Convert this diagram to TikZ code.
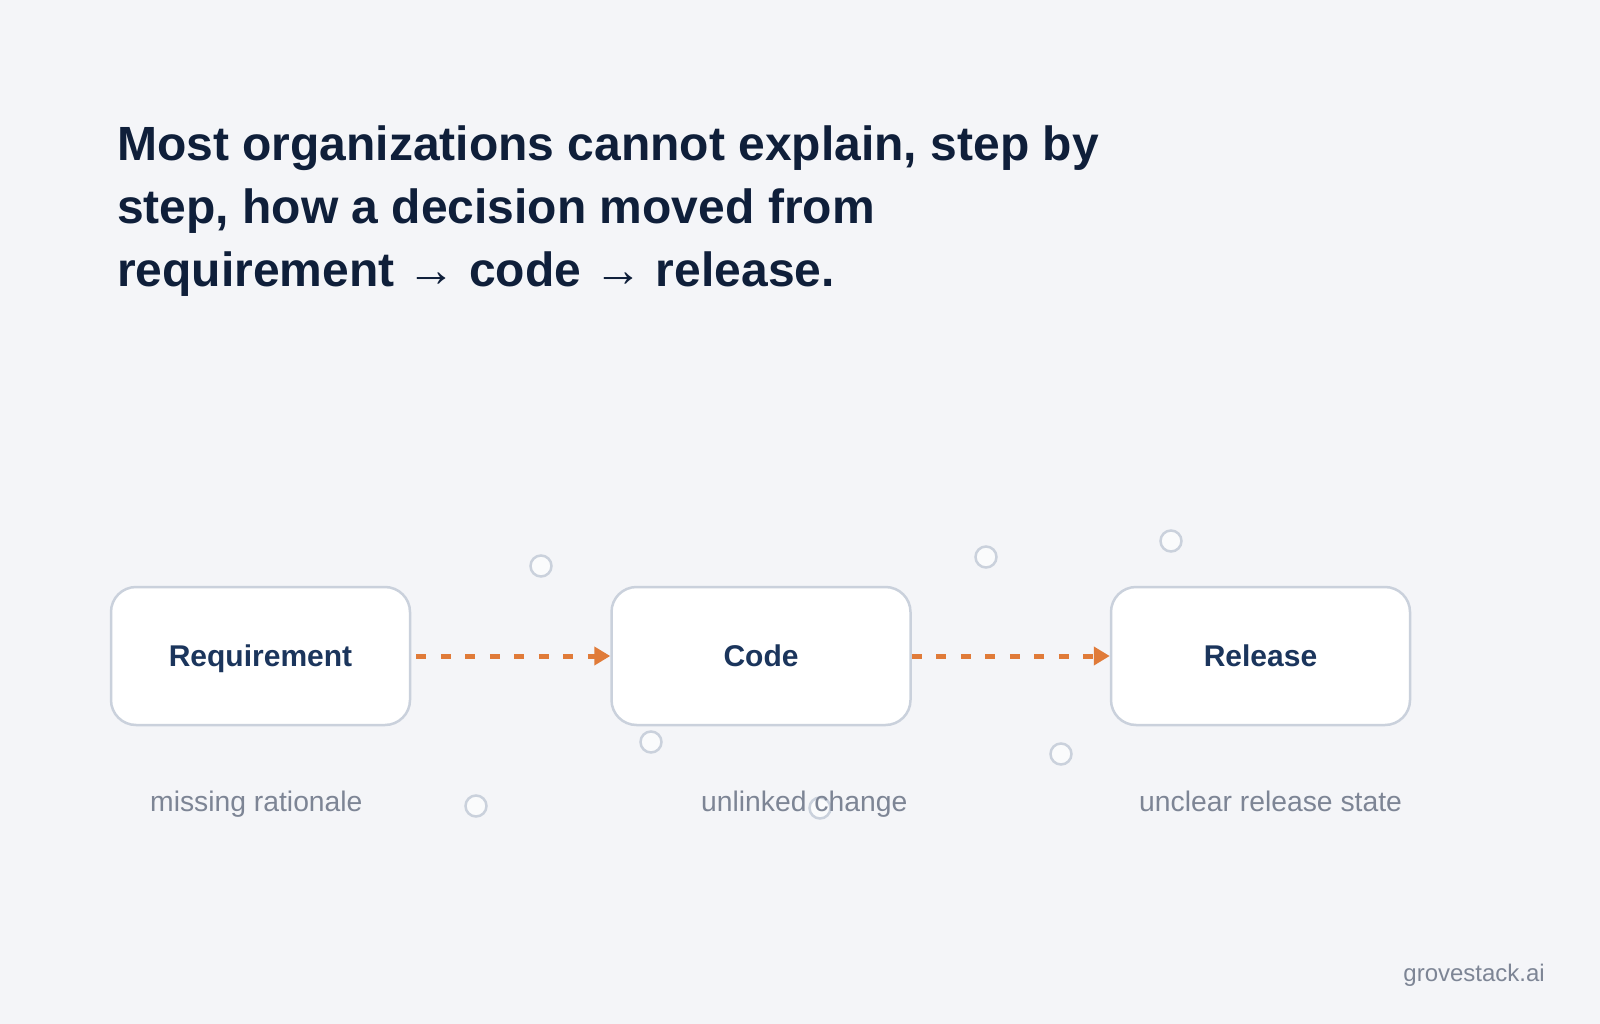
\documentclass[tikz,border=0pt]{standalone}
\usepackage{fontspec}
\setmainfont{Liberation Sans}
\usetikzlibrary{arrows.meta}
\definecolor{bg}{HTML}{F4F5F8}
\definecolor{titlecol}{HTML}{0F1F3A}
\definecolor{boxtext}{HTML}{1B355C}
\definecolor{boxline}{HTML}{CAD1DC}
\definecolor{graytext}{HTML}{7D8595}
\definecolor{flow}{HTML}{E07B39}
\tikzset{
  stepbox/.style={draw=boxline, line width=2.5pt, fill=white, rounded corners=25pt,
    minimum width=299pt, minimum height=138pt, inner sep=0pt,
    text=boxtext, font=\fontsize{30}{36}\selectfont\bfseries,
    text height=21.5pt, text depth=0pt},
  titleline/.style={anchor=base west, inner sep=0pt, text=titlecol,
    font=\fontsize{48}{58}\selectfont\bfseries},
  note/.style={anchor=base west, inner sep=0pt, text=graytext,
    font=\fontsize{28.3}{34}\selectfont},
  flowarrow/.style={draw=flow, line width=5pt, dash pattern=on 10pt off 14.5pt,
    -{Triangle[length=16pt,width=18pt]}},
  dot/.style={circle, draw=boxline, line width=2.5pt, fill=white, fill opacity=0.6,
    draw opacity=1, minimum size=21pt, inner sep=0pt}
}
\begin{document}
\begin{tikzpicture}[x=1pt,y=-1pt]
\useasboundingbox (0,0) rectangle (1600,1024);
\fill[bg] (0,0) rectangle (1600,1024);

\node[titleline] (t1) at (117,161) {Most organizations cannot explain, step by};
\node[titleline] (t2) at (117,224) {step, how a decision moved from};
\node[titleline] (t3) at (117,287) {requirement → code → release.};

\node[stepbox] (req) at (260.5,656) {Requirement};
\node[stepbox] (code) at (761,656) {Code};
\node[stepbox] (rel) at (1260.5,656) {Release};

\draw[flowarrow, shorten <=5pt] (req.east) -- (code.west);
\draw[flowarrow] (code.east) -- (rel.west);

\node[dot] (d1) at (541,566) {};
\node[dot] (d2) at (476,806) {};
\node[dot] (d3) at (651,742) {};
\node[dot] (d4) at (820,808) {};
\node[dot] (d5) at (986,557) {};
\node[dot] (d6) at (1171,541) {};
\node[dot] (d7) at (1061,754) {};

\node[note] (n1) at (150,811) {missing rationale};
\node[note] (n2) at (701,811) {unlinked change};
\node[note] (n3) at (1139,811) {unclear release state};

\node[anchor=base east, inner sep=0pt, text=graytext, font=\fontsize{24}{29}\selectfont] (brand) at (1545,981) {grovestack.ai};
\end{tikzpicture}
\end{document}
